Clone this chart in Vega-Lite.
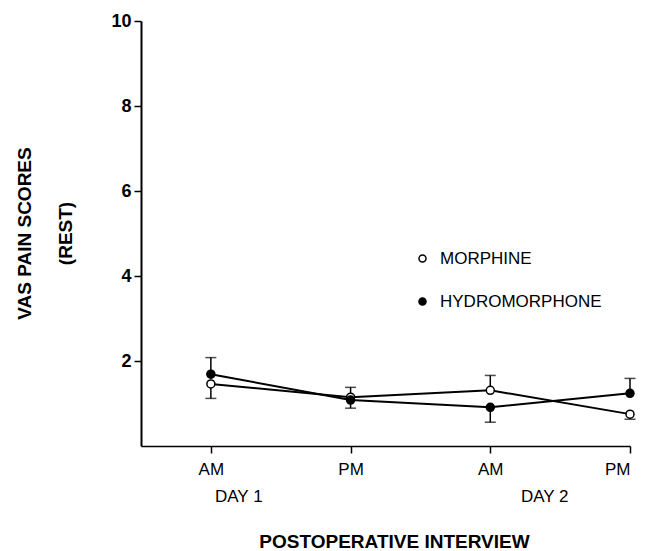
{
  "$schema": "https://vega.github.io/schema/vega-lite/v6.json",
  "autosize": {"type": "none"},
  "padding": {"left": 141, "top": 21, "right": 17, "bottom": 105},
  "width": 489,
  "height": 425,
  "background": "white",
  "config": {
    "view": {"stroke": null},
    "font": "Liberation Sans",
    "axis": {"grid": false, "domainColor": "black", "tickColor": "black", "labelColor": "black", "titleColor": "black"}
  },
  "datasets": {
    "pts": [
      {"time": 1, "series": "MORPHINE", "score": 1.46, "err": 1.12},
      {"time": 2, "series": "MORPHINE", "score": 1.15, "err": 1.38},
      {"time": 3, "series": "MORPHINE", "score": 1.31, "err": 1.66},
      {"time": 4, "series": "MORPHINE", "score": 0.75, "err": 0.63},
      {"time": 1, "series": "HYDROMORPHONE", "score": 1.69, "err": 2.08},
      {"time": 2, "series": "HYDROMORPHONE", "score": 1.08, "err": 0.89},
      {"time": 3, "series": "HYDROMORPHONE", "score": 0.91, "err": 0.56},
      {"time": 4, "series": "HYDROMORPHONE", "score": 1.24, "err": 1.59}
    ],
    "days": [
      {"label": "DAY 1", "t": 1.2},
      {"label": "DAY 2", "t": 3.39}
    ]
  },
  "layer": [
    {
      "data": {"name": "pts"},
      "mark": {"type": "rule", "color": "black", "strokeWidth": 1.5},
      "encoding": {
        "x": {"field": "time", "type": "quantitative", "scale": {"domain": [0.5, 4], "nice": false, "zero": false},
          "axis": {"values": [1, 2, 3, 4], "labelExpr": "datum.value == 1 || datum.value == 3 ? 'AM' : 'PM'",
            "tickSize": 7, "tickWidth": 1.5, "domainWidth": 1.5, "labelFontSize": 17, "labelPadding": 8,
            "title": "POSTOPERATIVE INTERVIEW", "titleFontSize": 19, "titleFontWeight": "bold",
            "titleX": 253, "titleY": 95, "titleBaseline": "middle", "titleAlign": "center"}},
        "y": {"field": "score", "type": "quantitative", "scale": {"domain": [0, 10], "nice": false},
          "axis": {"values": [2, 4, 6, 8, 10], "tickSize": 7, "tickWidth": 1.5, "domainWidth": 2,
            "labelFontSize": 18, "labelFontWeight": "bold", "labelPadding": 3,
            "title": ["VAS PAIN SCORES", "(REST)"], "titleFontSize": 19, "titleFontWeight": "bold",
            "titleLineHeight": 41, "titleAngle": -90, "titleX": -117, "titleY": 212, "titleBaseline": "middle", "titleAlign": "center"}},
        "y2": {"field": "err"}
      }
    },
    {
      "data": {"name": "pts"},
      "mark": {"type": "tick", "color": "black", "orient": "horizontal", "size": 11, "thickness": 1.5},
      "encoding": {
        "x": {"field": "time", "type": "quantitative"},
        "y": {"field": "err", "type": "quantitative"}
      }
    },
    {
      "data": {"name": "pts"},
      "mark": {"type": "line", "color": "black", "strokeWidth": 2},
      "encoding": {
        "x": {"field": "time", "type": "quantitative"},
        "y": {"field": "score", "type": "quantitative"},
        "detail": {"field": "series"}
      }
    },
    {
      "data": {"name": "pts"},
      "mark": {"type": "point", "shape": "circle", "filled": false, "stroke": "black", "strokeWidth": 1.5, "size": 64, "opacity": 1},
      "encoding": {
        "x": {"field": "time", "type": "quantitative"},
        "y": {"field": "score", "type": "quantitative"},
        "fill": {"field": "series", "type": "nominal",
          "scale": {"domain": ["MORPHINE", "HYDROMORPHONE"], "range": ["white", "black"]},
          "legend": {"title": null, "orient": "none", "legendX": 273, "legendY": 229,
            "labelFontSize": 17, "labelColor": "black", "labelOffset": 9, "labelLimit": 300, "rowPadding": 25,
            "symbolSize": 50, "symbolStrokeColor": "black", "symbolStrokeWidth": 1.5, "symbolType": "circle"}}
      }
    },
    {
      "data": {"name": "days"},
      "mark": {"type": "text", "fontSize": 17, "color": "black", "baseline": "middle", "align": "center"},
      "encoding": {
        "x": {"field": "t", "type": "quantitative"},
        "y": {"datum": -1.2, "type": "quantitative"},
        "text": {"field": "label"}
      }
    }
  ]
}
